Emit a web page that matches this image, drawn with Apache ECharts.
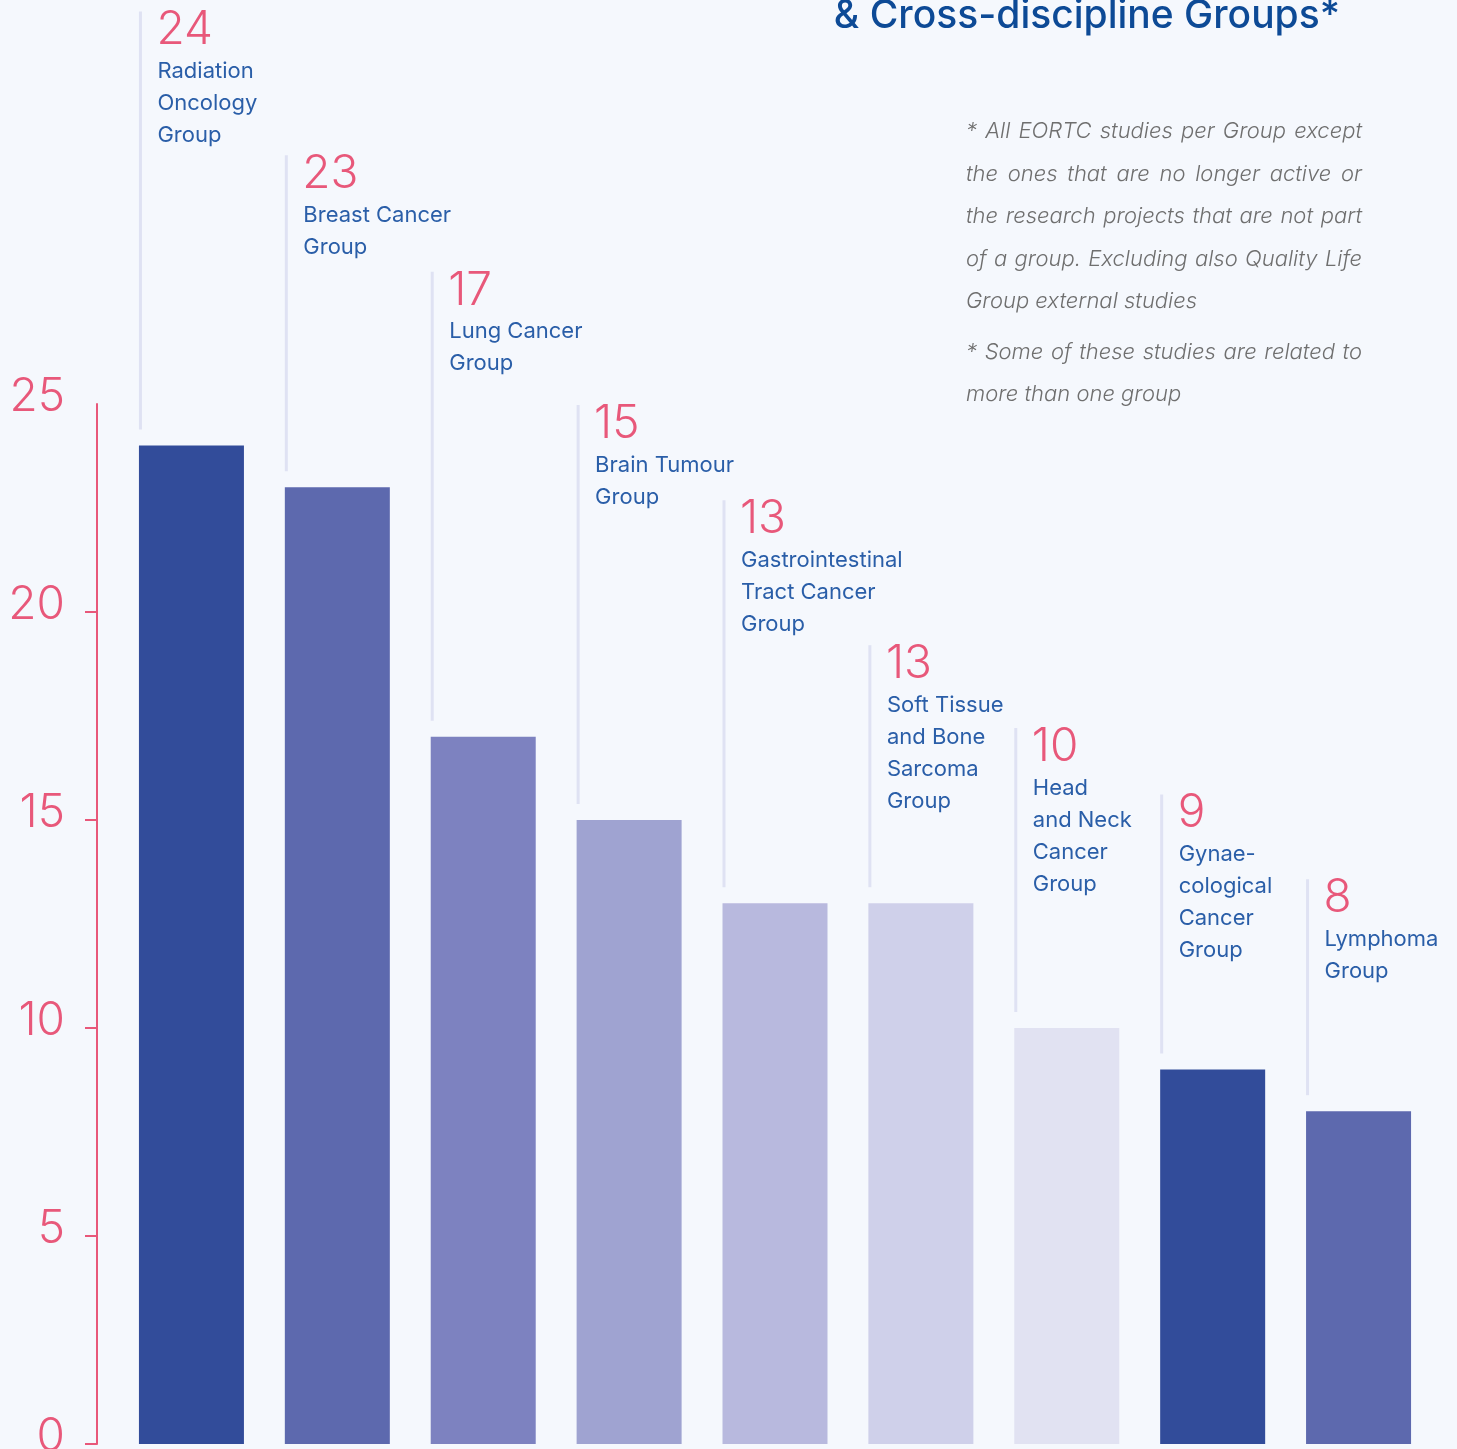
<!DOCTYPE html>
<html>
<head>
<meta charset="utf-8">
<script src="https://cdn.jsdelivr.net/npm/echarts@6/dist/echarts.min.js"></script>
<style>
html,body{margin:0;padding:0;background:#f5f8fd;}
#chart{width:1457px;height:1449px;}
</style>
</head>
<body>
<div id="chart"></div>
<script>
// ---- data ----
const groups = [
  'Radiation\nOncology\nGroup',
  'Breast Cancer\nGroup',
  'Lung Cancer\nGroup',
  'Brain Tumour\nGroup',
  'Gastrointestinal\nTract Cancer\nGroup',
  'Soft Tissue\nand Bone\nSarcoma\nGroup',
  'Head\nand Neck\nCancer\nGroup',
  'Gynae-\ncological\nCancer\nGroup',
  'Lymphoma\nGroup'
];
const studies = [24, 23, 17, 15, 13, 13, 10, 9, 8];
const yTicks = [0, 5, 10, 15, 20, 25];
const titleText = '& Cross-discipline Groups*';
const noteLines = [
  ['* All EORTC studies per Group except', true],
  ['the ones that are no longer active or', true],
  ['the research projects that are not part', true],
  ['of a group. Excluding also Quality Life', true],
  ['Group external studies', false],
  ['* Some of these studies are related to', true],
  ['more than one group', false]
];

// ---- layout / style ----
const barColors = ['#324c9a','#5d69ae','#7d82c0','#9fa3d1','#b8b9de','#cfd0ea','#e1e2f2','#324c9a','#5d69ae'];
const labelLift = [434, 332, 465, 415, 403, 258, 300, 275, 232]; // px above bar top where each label starts
const PINK = '#e8587a';
const BLUE = '#2a5ea8';
const BAR_W = 105;
const FONT = 'Inter, "Noto Sans", sans-serif';

const chart = echarts.init(document.getElementById('chart'));

// justified footnote built from measured words
const noteFont = 'italic 300 22px Inter';
const cv = document.createElement('canvas').getContext('2d');
cv.font = noteFont;
const noteLeft = 966, noteRight = 1362;
const noteCenters = [131, 174, 216, 259, 301, 352, 394];
const noteGraphics = [];
noteLines.forEach(([line, justify], li) => {
  const y = noteCenters[li];
  const words = line.split(' ');
  const widths = words.map(w => cv.measureText(w).width);
  const total = widths.reduce((a,b)=>a+b,0);
  const space = cv.measureText(' ').width;
  const gap = justify ? (noteRight - noteLeft - total) / (words.length - 1) : space;
  let x = noteLeft;
  words.forEach((w, wi) => {
    noteGraphics.push({type:'text', x: x, y: y, style:{text: w, font: noteFont, fill:'#6f6f6f', verticalAlign:'middle'}});
    x += widths[wi] + gap;
  });
});

const option = {
  backgroundColor: '#f5f8fd',
  animation: false,
  grid: {left: 118.5, right: 25.5, top: 404, bottom: 5, containLabel: false, outerBoundsMode: 'none'},
  xAxis: {
    type: 'category',
    data: groups,
    show: false
  },
  yAxis: {
    type: 'value',
    min: yTicks[0],
    max: yTicks[yTicks.length - 1],
    interval: yTicks[1] - yTicks[0],
    offset: 21.5,
    axisLine: {show: true, lineStyle: {color: PINK, width: 2}},
    axisTick: {show: true, length: 12, lineStyle: {color: PINK, width: 2},
               customValues: yTicks.slice(0, -1)},
    splitLine: {show: false},
    axisLabel: {
      color: PINK, fontSize: 46, fontWeight: 300, fontFamily: FONT, margin: 32,
      lineHeight: 13, verticalAlign: 'bottom'
    }
  },
  series: [
    {
      type: 'bar',
      barWidth: BAR_W,
      data: studies.map((v, i) => ({value: v, itemStyle: {color: barColors[i]}})),
      z: 2
    },
    {
      type: 'custom',
      data: studies.map((v, i) => [i, v]),
      clip: false,
      z: 3,
      renderItem: function (params, api) {
        const i = params.dataIndex;
        const p = api.coord([api.value(0), api.value(1)]);
        const lx = p[0] - BAR_W / 2 + 1.5;
        const top = p[1] - labelLift[i];
        const bottom = p[1] - 16;
        return {
          type: 'group',
          children: [
            {type: 'line', shape: {x1: lx, y1: top, x2: lx, y2: bottom},
             style: {stroke: '#dfe2f3', lineWidth: 3}},
            {type: 'text', x: lx + 16, y: top + 19,
             style: {text: String(api.value(1)), fill: PINK, font: '300 46px ' + FONT, verticalAlign: 'middle'}},
            {type: 'text', x: lx + 17, y: top + 44,
             style: {text: groups[i], fill: BLUE, font: '400 22px ' + FONT, lineHeight: 32, verticalAlign: 'top'}}
          ]
        };
      }
    }
  ],
  graphic: [
    {type: 'text', right: 117, top: -3,
     style: {text: titleText, fill: '#0d4a96', font: '500 39px ' + FONT}},
    ...noteGraphics
  ]
};
chart.setOption(option);
</script>
</body>
</html>
